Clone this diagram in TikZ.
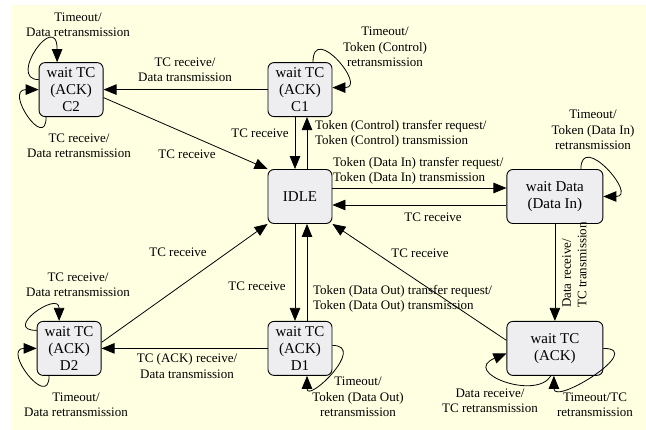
\documentclass[tikz,border=0pt]{standalone}
\usepackage{fontspec}
\setmainfont{Liberation Serif}
\usetikzlibrary{arrows.meta, positioning}
\definecolor{paperYellow}{RGB}{255, 255, 226}
\definecolor{stateGray}{RGB}{238, 238, 241}

\begin{document}
\begin{tikzpicture}[
    x=1pt, y=1pt,
    % State box styles
    state/.style={
        rectangle,
        rounded corners=6pt,
        minimum width=64pt,
        minimum height=54pt,
        inner sep=0pt,
        align=center,
        font=\fontsize{15}{17}\selectfont,
        draw=black,
        fill=stateGray,
        line width=0.9pt
    },
    bigstate/.style={
        state,
        minimum width=96pt
    },
    % Transition arrow style
    trans/.style={
        -{Triangle[length=13pt, width=10.5pt]},
        line width=0.8pt,
        draw=black
    },
    % Transition label style
    annot/.style={
        font=\fontsize{13}{15.5}\selectfont,
        align=center,
        inner sep=0pt
    }
]

\useasboundingbox (0,0) rectangle (646,430);
\fill[paperYellow] (12,0) rectangle (646,425);

% ============================================
% STATES
% ============================================
% Idle state
\node[state] (idle) at (300,233.5) {IDLE};

% Control token states
\node[state, above=52pt of idle] (c1) {wait TC\\(ACK)\\C1};
\node[state, left=164pt of c1] (c2) {wait TC\\(ACK)\\C2};

% Data In states
\node[bigstate, right=174pt of idle] (wdata) {wait Data\\(Data In)};
\node[bigstate, below=97pt of wdata] (ack) {wait TC\\(ACK)};

% Data Out states
\node[state, below=97pt of idle] (d1) {wait TC\\(ACK)\\D1};
\node[state, left=166pt of d1] (d2) {wait TC\\(ACK)\\D2};

% ============================================
% TRANSITIONS - Control
% ============================================
\draw[trans] (c1.west) -- (c2.east);
\node[annot] (lc1c2) at (185,360) {TC receive/\\Data transmission};

\draw[trans] ([yshift=-8pt]c2.east) -- (idle.north west);
\node[annot] (lc2idle) at (187,276) {TC receive};

\draw[trans] ([xshift=-5pt]c1.south) -- ([xshift=-5pt]idle.north);
\node[annot] (lc1idle) at (260,297) {TC receive};

\draw[trans] ([xshift=7pt]idle.north) -- ([xshift=7pt]c1.south);
\node[annot, anchor=west, align=left] (lidlec1) at (315,296)
    {Token (Control) transfer request/\\Token (Control) transmission};

% Self loops C2 / C1
\draw[trans] ([yshift=10pt]c2.west) .. controls +(-32,0) and +(0,53) .. ([xshift=-14pt]c2.north);
\node[annot] (lc2top) at (78,405) {Timeout/\\Data retransmission};
\draw[trans] ([xshift=-25pt]c2.south) .. controls +(0,-35) and +(-35,0) .. (c2.west);
\node[annot] (lc2bot) at (79,284) {TC receive/\\Data retransmission};

\draw[trans] ([xshift=13pt]c1.north) .. controls +(0,40) and +(35,0) .. ([yshift=2pt]c1.east);
\node[annot] (lc1loop) at (385,383) {Timeout/\\Token (Control)\\retransmission};

% ============================================
% TRANSITIONS - Data In
% ============================================
\draw[trans] ([yshift=8.5pt]idle.east) -- ([yshift=8.5pt]wdata.west);
\node[annot, anchor=west, align=left] (lidlewd) at (333,259)
    {Token (Data In) transfer request/\\Token (Data In) transmission};

\draw[trans] ([yshift=-8.5pt]wdata.west) -- ([yshift=-8.5pt]idle.east);
\node[annot] (lwdidle) at (433,213) {TC receive};

\draw[trans] ([xshift=26pt]wdata.north) .. controls +(0,38) and +(35,0) .. (wdata.east);
\node[annot] (lwdloop) at (593,300) {Timeout/\\Token (Data In)\\retransmission};

\draw[trans] (wdata.south) -- (ack.north);
\node[annot, rotate=90, anchor=west, align=left] (lwdack) at (574.5,122)
    {Data receive/\\TC transmission};

\draw[trans] ([yshift=8pt]ack.west) -- (idle.south east);
\node[annot] (lackidle) at (420,177) {TC receive};

% Self loops wait TC (ACK)
\draw[trans] ([xshift=-4pt]ack.south) .. controls +(-15,-25) and +(-46,-19) .. ([yshift=-5pt]ack.west);
\node[annot] (lackleft) at (490,29) {Data receive/\\TC retransmission};
\draw[trans] (ack.east) .. controls +(43,0) and +(0,-30) .. ([xshift=-1pt]ack.south);
\node[annot] (lackright) at (595,25) {Timeout/TC\\retransmission};

% ============================================
% TRANSITIONS - Data Out
% ============================================
\draw[trans] ([xshift=-5pt]idle.south) -- ([xshift=-5pt]d1.north);
\node[annot] (lidled1) at (257,144) {TC receive};

\draw[trans] ([xshift=7pt]d1.north) -- ([xshift=7pt]idle.south);
\node[annot, anchor=west, align=left] (ld1idle) at (313,131)
    {Token (Data Out) transfer request/\\Token (Data Out) transmission};

\draw[trans] ([yshift=3pt]d1.east) .. controls +(35,0) and +(0,-28) .. ([xshift=7pt]d1.south);
\node[annot] (ld1loop) at (358,33) {Timeout/\\Token (Data Out)\\retransmission};

\draw[trans] (d1.west) -- (d2.east);
\node[annot] (ld1d2) at (187,64) {TC (ACK) receive/\\Data transmission};

\draw[trans] ([yshift=6pt]d2.east) -- (idle.south west);
\node[annot] (ld2idle) at (178,178) {TC receive};

% Self loops D2
\draw[trans] ([yshift=18pt]d2.west) .. controls +(-35,0) and +(0,31) .. ([xshift=-10pt]d2.north);
\node[annot] (ld2top) at (78,145) {TC receive/\\Data retransmission};
\draw[trans] ([xshift=-20pt]d2.south) .. controls +(0,-35) and +(-35,0) .. (d2.west);
\node[annot] (ld2bot) at (76,25) {Timeout/\\Data retransmission};

\end{tikzpicture}
\end{document}
